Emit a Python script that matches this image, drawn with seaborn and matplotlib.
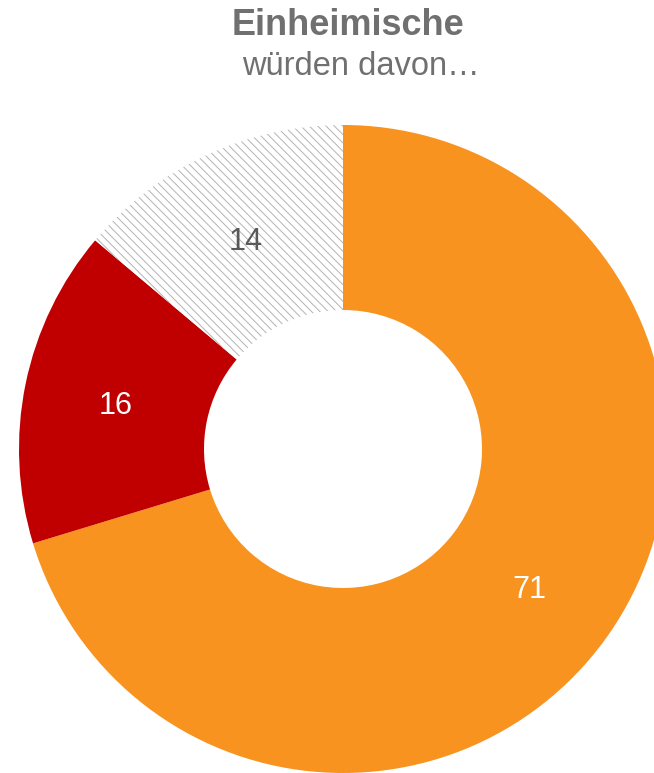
import matplotlib.pyplot as plt
import seaborn as sns

title = "Einheimische"
subtitle = "würden davon…"
categories = ['A', 'B', 'C']
values = [71, 16, 14]
colors = ['#F7931E', '#C00000', 'white']
label_colors = ['white', 'white', '#595959']

sns.set_theme(style='white')
plt.rcParams['font.family'] = ['Liberation Sans', 'DejaVu Sans']
plt.rcParams['hatch.linewidth'] = 0.7

fig = plt.figure(figsize=(6.54, 7.73), dpi=100)
# donut is partly cut off on the right edge, like the reference
ax = fig.add_axes([19 / 654, 0, 648 / 654, 648 / 773])

wedges, texts = ax.pie(values, labels=[str(v) for v in values], colors=colors,
                       startangle=90, counterclock=False,
                       labeldistance=0.715, radius=1,
                       wedgeprops=dict(width=0.571, linewidth=0),
                       textprops=dict(fontsize=22, ha='center', va='center_baseline'))

# hatched slice
wedges[2].set_hatch('\\\\\\\\')
wedges[2].set_edgecolor('#b3b3b3')
wedges[2].set_linewidth(0)

for t, c in zip(texts, label_colors):
    t.set_color(c)

ax.set_xlim(-1, 1)
ax.set_ylim(-1, 1)
ax.set_aspect('equal')
ax.axis('off')

fig.text(348 / 654, 1 - 35 / 773, title, ha='center', va='baseline',
         fontsize=26, fontweight='bold', color='#707070')
fig.text(361 / 654, 1 - 75 / 773, subtitle, ha='center', va='baseline',
         fontsize=23.5, color='#707070')

plt.savefig('out.png', dpi=100)
